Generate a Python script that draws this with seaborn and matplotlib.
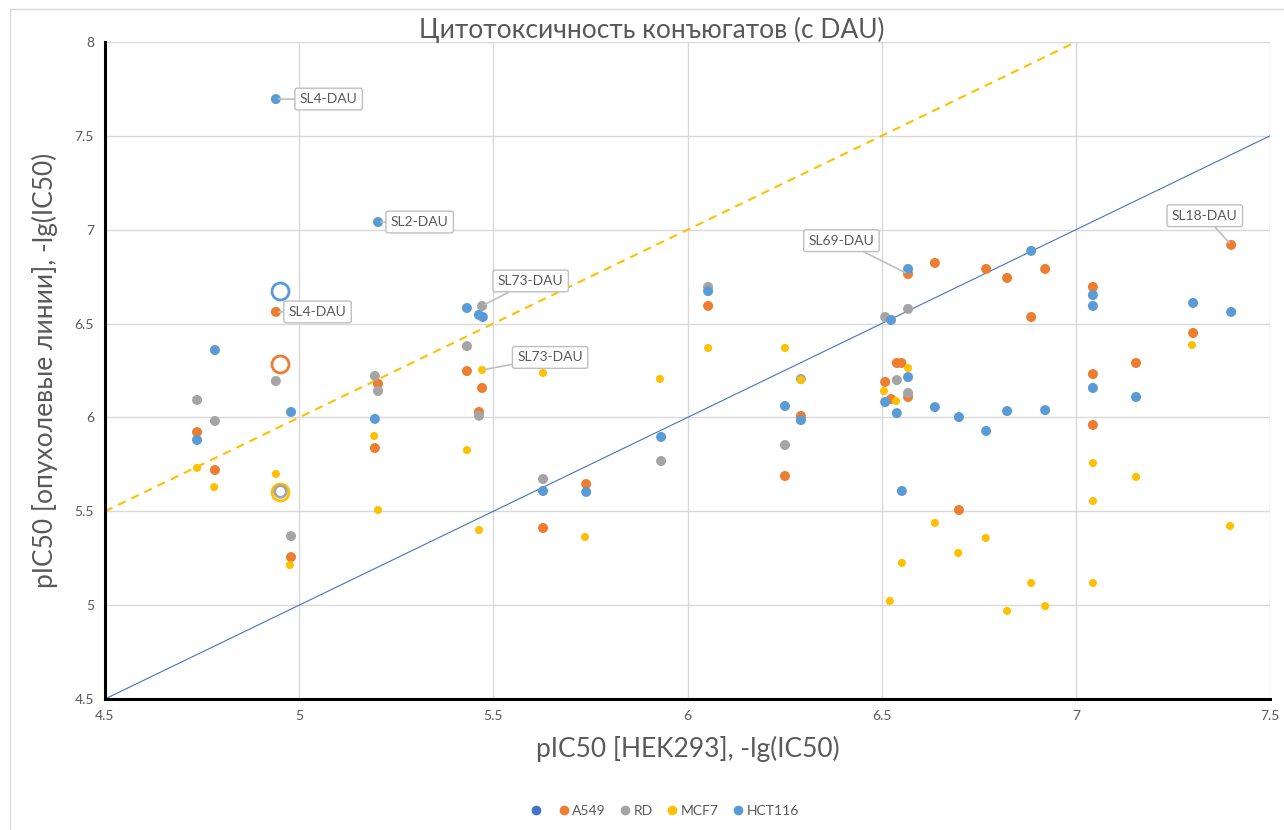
import pandas as pd
import numpy as np
import seaborn as sns
import matplotlib.pyplot as plt
from matplotlib.lines import Line2D
from matplotlib.patches import Rectangle

# pIC50 values: (HEK293, tumour line)
a549_x = [4.737, 4.783, 4.940, 4.979, 5.203, 5.195, 5.432, 5.471, 5.463, 5.628, 5.739,
          6.053, 6.251, 6.292, 6.509, 6.524, 6.539, 6.551, 6.568, 6.568, 6.637, 6.699,
          6.769, 6.823, 6.885, 6.921, 7.044, 7.044, 7.044, 7.155, 7.302, 7.400]
a549_y = [5.922, 5.720, 6.562, 5.256, 6.179, 5.837, 6.247, 6.157, 6.029, 5.411, 5.645,
          6.594, 5.688, 6.008, 6.189, 6.098, 6.290, 6.290, 6.109, 6.764, 6.823, 5.507,
          6.791, 6.743, 6.535, 6.791, 6.695, 6.231, 5.960, 6.290, 6.450, 6.919]

rd_x = [4.737, 4.783, 4.940, 4.979, 5.195, 5.203, 5.432, 5.471, 5.463, 5.628, 5.932,
        6.053, 6.251, 6.292, 6.509, 6.539, 6.568, 6.568]
rd_y = [6.093, 5.981, 6.194, 5.368, 6.221, 6.141, 6.380, 6.594, 6.009, 5.672, 5.768,
        6.695, 5.853, 6.205, 6.535, 6.199, 6.578, 6.130]

mcf7_x = [4.737, 4.781, 4.940, 4.976, 5.193, 5.203, 5.432, 5.463, 5.471, 5.628, 5.736,
          5.929, 6.053, 6.251, 6.292, 6.506, 6.521, 6.537, 6.552, 6.568, 6.637, 6.697,
          6.768, 6.823, 6.885, 6.921, 7.044, 7.044, 7.044, 7.155, 7.299, 7.397]
mcf7_y = [5.731, 5.629, 5.699, 5.214, 5.901, 5.507, 5.826, 5.400, 6.253, 6.237, 5.363,
          6.205, 6.370, 6.370, 6.199, 6.141, 5.022, 6.087, 5.225, 6.263, 5.438, 5.278,
          5.358, 4.969, 5.118, 4.995, 5.757, 5.555, 5.118, 5.683, 6.386, 5.422]

hct_x = [4.737, 4.783, 4.940, 4.979, 5.195, 5.203, 5.432, 5.463, 5.473, 5.628, 5.739,
         5.932, 6.053, 6.251, 6.292, 6.509, 6.524, 6.539, 6.552, 6.568, 6.568, 6.637,
         6.699, 6.769, 6.823, 6.885, 6.921, 7.044, 7.044, 7.044, 7.155, 7.302, 7.400]
hct_y = [5.880, 6.359, 7.696, 6.029, 5.992, 7.041, 6.583, 6.546, 6.535, 5.608, 5.603,
         5.896, 6.673, 6.061, 5.986, 6.082, 6.519, 6.023, 5.608, 6.215, 6.791, 6.055,
         6.002, 5.928, 6.034, 6.887, 6.039, 6.652, 6.594, 6.157, 6.109, 6.610, 6.562]

# free DAU (open circles)
dau_lines = ["HCT116", "A549", "MCF7", "RD"]
dau_x = [4.951, 4.951, 4.951, 4.951]
dau_y = [6.673, 6.285, 5.603, 5.610]

# labelled conjugates: text, x, y, label offset (pt)
label_text = ["SL4-DAU", "SL2-DAU", "SL4-DAU", "SL73-DAU", "SL73-DAU", "SL69-DAU", "SL18-DAU"]
label_x = [4.940, 5.203, 4.940, 5.471, 5.471, 6.568, 7.400]
label_y = [7.696, 7.041, 6.562, 6.594, 6.253, 6.764, 6.919]
label_off = [(38, 0), (30, 0), (30, 0), (35, 18), (49, 9), (-48, 24), (-19, 21)]

line_names = ["A549", "RD", "MCF7", "HCT116"]
colors = {"A549": "#ED7D31", "RD": "#A5A5A5", "MCF7": "#FFC000", "HCT116": "#5B9BD5"}
sizes = {"A549": 52, "RD": 52, "MCF7": 34, "HCT116": 52}

ref_x = [4.5, 7.5]
ident_y = [4.5, 7.5]
shift_y = [5.5, 8.5]

frames = []
for name, xs, ys in zip(line_names, [a549_x, rd_x, mcf7_x, hct_x], [a549_y, rd_y, mcf7_y, hct_y]):
    frames.append(pd.DataFrame({"hek": xs, "tumor": ys, "line": name}))
df = pd.concat(frames, ignore_index=True)

sns.set_theme(style="white")
plt.rcParams['font.family'] = ['Lato', 'DejaVu Sans']
grey_text = "#595959"

fig = plt.figure(figsize=(12.84, 8.30), dpi=100)
ax = fig.add_axes([105 / 1284, 1 - 699 / 830, (1270 - 105) / 1284, (699 - 42) / 830])

ax.grid(True, color="#D9D9D9", linewidth=1.0)
ax.set_axisbelow(True)

ax.plot(ref_x, ident_y, color="#4472C4", linewidth=0.8, zorder=2)
ax.plot(ref_x, shift_y, color="#FFC000", linewidth=1.5, linestyle=(0, (4, 3)), zorder=2)

sns.scatterplot(data=df, x="hek", y="tumor", hue="line", size="line",
                palette=colors, sizes=sizes, hue_order=line_names, size_order=line_names,
                linewidth=0, legend=False, ax=ax, zorder=3)

dau_size = {"HCT116": 150, "A549": 150, "MCF7": 150, "RD": 70}
for name, x, y in zip(dau_lines, dau_x, dau_y):
    ax.scatter([x], [y], s=dau_size[name], facecolors="white", edgecolors=colors[name],
               linewidths=2, zorder=4)

for txt, x, y, off in zip(label_text, label_x, label_y, label_off):
    ax.annotate(txt, xy=(x, y), xytext=off, textcoords="offset points",
                ha="center", va="center", fontsize=10, color=grey_text,
                bbox=dict(boxstyle="round,pad=0.35,rounding_size=0.15", fc="white",
                          ec="#BFBFBF", lw=1),
                arrowprops=dict(arrowstyle="-", color="#BFBFBF", lw=1.2,
                                shrinkA=0, shrinkB=2),
                zorder=5)

ax.set_xlim(4.5, 7.5)
ax.set_ylim(4.5, 8)
ax.set_xticks(np.arange(4.5, 7.51, 0.5))
ax.set_yticks(np.arange(4.5, 8.01, 0.5))
ax.set_xticklabels(["4.5", "5", "5.5", "6", "6.5", "7", "7.5"])
ax.set_yticklabels(["4.5", "5", "5.5", "6", "6.5", "7", "7.5", "8"])
ax.tick_params(axis="both", length=0, labelsize=10, colors=grey_text, pad=8)

for side in ["top", "right"]:
    ax.spines[side].set_visible(False)
for side in ["left", "bottom"]:
    ax.spines[side].set_color("black")
    ax.spines[side].set_linewidth(2.2)

ax.set_xlabel("pIC50 [HEK293], -lg(IC50)", fontsize=19, color=grey_text, labelpad=10)
ax.set_ylabel("pIC50 [опухолевые линии], -lg(IC50)", fontsize=19, color=grey_text, labelpad=12)
fig.text(652 / 1284, 1 - 30 / 830, "Цитотоксичность конъюгатов (с DAU)",
         ha="center", va="center", fontsize=19, color=grey_text)

fig.patches.append(Rectangle((10 / 1284, -0.01), 1.0, 1 - 9 / 830 + 0.01,
                             transform=fig.transFigure, fill=False,
                             edgecolor="#D9D9D9", linewidth=1))

handles = [Line2D([], [], marker="o", linestyle="", markersize=7,
                  markerfacecolor="#4472C4", markeredgewidth=0)]
labels = [""]
for name in line_names:
    handles.append(Line2D([], [], marker="o", linestyle="", markersize=7,
                          markerfacecolor=colors[name], markeredgewidth=0))
    labels.append(name)
leg = fig.legend(handles, labels, loc="center", bbox_to_anchor=(664 / 1284, 1 - 811 / 830),
                 ncol=5, frameon=False, fontsize=10, handletextpad=0.1,
                 columnspacing=0.9, handlelength=1.0)
for t in leg.get_texts():
    t.set_color(grey_text)

fig.savefig("out.png", dpi=100)
